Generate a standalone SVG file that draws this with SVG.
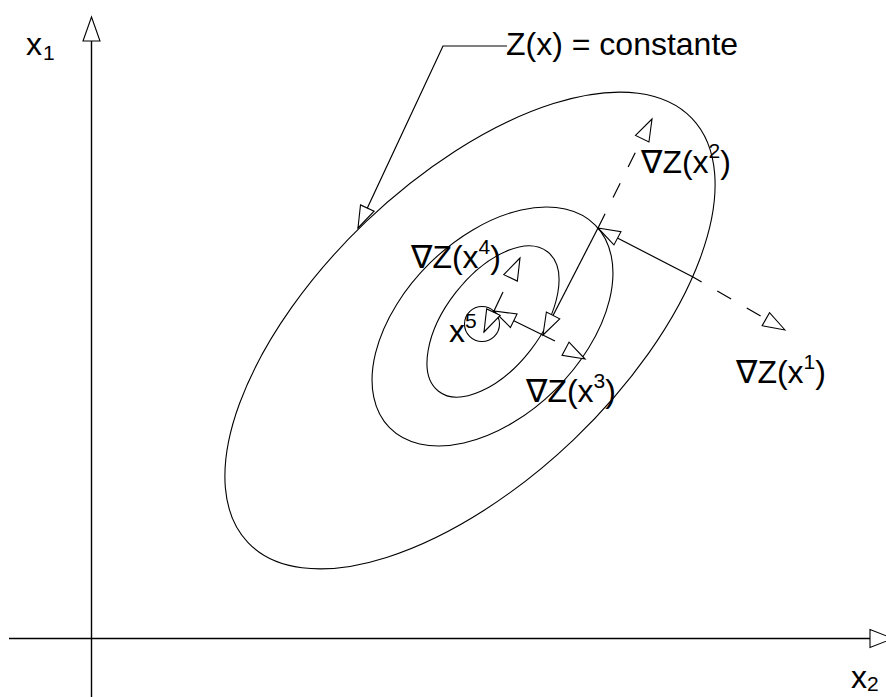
<svg xmlns="http://www.w3.org/2000/svg" xmlns:xlink="http://www.w3.org/1999/xlink" width="886" height="697" viewBox="0 0 886 697">
<style>
.ln{fill:none;stroke:#000;stroke-width:1.2}
.ax{fill:none;stroke:#000;stroke-width:1.4}
.ct{fill:none;stroke:#000;stroke-width:1.1}
.ds{fill:none;stroke:#000;stroke-width:1.2;stroke-dasharray:16 18}
.ah{fill:#fff;stroke:#000;stroke-width:1.1;stroke-linejoin:miter}
text{font-family:"Liberation Sans",Arial,"DejaVu Sans",sans-serif;font-size:32px;fill:#000}
.sup{font-size:21px}
</style>
<defs>
<path id="ah" class="ah" d="M0,0 L-22,-7.5 L-22,7.5 Z"/>
</defs>
<rect width="886" height="697" fill="#fff"/>
<g id="axes">
<line class="ax" x1="91.5" y1="40" x2="91.5" y2="697"/>
<polygon class="ah" points="91.5,17 83,41 100,41"/>
<line class="ax" x1="9" y1="638.5" x2="870" y2="638.5"/>
<polygon class="ah" points="870,629.5 893,638.5 870,647.5"/>
<text x="26" y="55">x</text>
<text class="sup" x="43" y="60">1</text>
<text x="851" y="688">x</text>
<text class="sup" x="867" y="691">2</text>
</g>
<g id="contours">
<ellipse id="contour-outer" class="ct" cx="470" cy="330.5" rx="307" ry="150.5" transform="rotate(-43.7 470 330.5)"/>
<ellipse id="contour-middle" class="ct" cx="492.5" cy="326.5" rx="144.4" ry="89.1" transform="rotate(-44.5 492.5 326.5)"/>
<ellipse id="contour-inner" class="ct" cx="493" cy="321.5" rx="88.5" ry="47.2" transform="rotate(-52 493 321.5)"/>
<circle id="contour-x5" class="ct" cx="482" cy="324" r="17.5"/>
</g>
<g id="connectors">
<polyline class="ln" points="507,46 443,46 358,228"/>
<use xlink:href="#ah" transform="translate(358,228) rotate(115)"/>
<line class="ln" x1="693" y1="277" x2="598" y2="228"/>
<use xlink:href="#ah" transform="translate(598,228) rotate(-152.1)"/>
<line class="ds" x1="693" y1="277" x2="766" y2="319" style="stroke-dashoffset:6"/>
<use xlink:href="#ah" transform="translate(785,330) rotate(29.5)"/>
<line class="ln" x1="598" y1="228" x2="543" y2="335"/>
<use xlink:href="#ah" transform="translate(543,335) rotate(117.2)"/>
<line class="ds" x1="598" y1="228" x2="642" y2="139"/>
<use xlink:href="#ah" transform="translate(652,119) rotate(-63.6)"/>
<line class="ln" x1="555" y1="341" x2="494" y2="311"/>
<use xlink:href="#ah" transform="translate(494,311) rotate(-153.8)"/>
<use xlink:href="#ah" transform="translate(585,359) rotate(27.8)"/>
<line class="ln" x1="503" y1="292" x2="484" y2="332"/>
<use xlink:href="#ah" transform="translate(484,332) rotate(115.4)"/>
<use xlink:href="#ah" transform="translate(520,258) rotate(-64.6)"/>
</g>
<g id="label-constante"><text x="506" y="55">Z(x) = constante</text></g>
<g id="label-grad1"><text x="736" y="383">∇Z(x<tspan class="sup" dy="-14">1</tspan><tspan dy="14">)</tspan></text></g>
<g id="label-grad2"><text x="641" y="173">∇Z(x<tspan class="sup" dy="-15">2</tspan><tspan dy="15">)</tspan></text></g>
<g id="label-grad3"><text x="526" y="402">∇Z(x<tspan class="sup" dy="-14">3</tspan><tspan dy="14">)</tspan></text></g>
<g id="label-grad4"><text x="411" y="268">∇Z(x<tspan class="sup" dy="-14">4</tspan><tspan dy="14">)</tspan></text></g>
<g id="label-x5"><text x="449" y="342">x<tspan class="sup" dy="-14">5</tspan></text></g>
</svg>
